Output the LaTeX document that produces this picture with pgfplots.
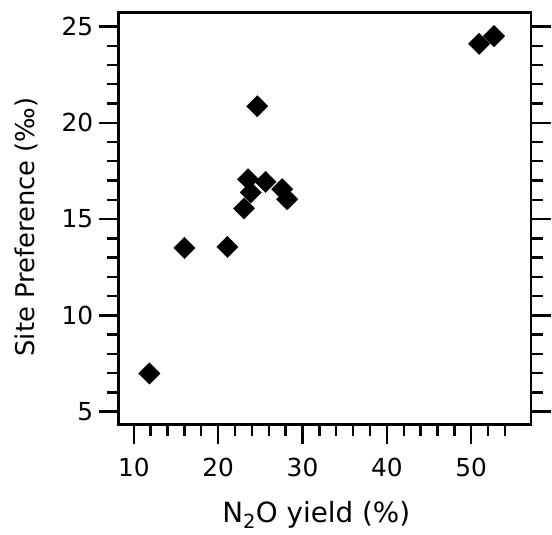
\documentclass[border=0pt]{standalone}
\usepackage{fontspec}
\setmainfont{DejaVu Sans}
\usepackage{pgfplots}
\pgfplotsset{compat=1.18}
\begin{document}
\begin{tikzpicture}
\begin{axis}[
  scale only axis, width=414bp, height=413.5bp,
  xmin=8.19, xmax=57.07, ymin=4.34, ymax=25.73,
  xtick={10,20,...,50}, ytick={5,10,...,25},
  minor xtick={12,14,16,18,22,24,26,28,32,34,36,38,42,44,46,48,52,54},
  minor ytick={6,7,8,9,11,12,13,14,16,17,18,19,21,22,23,24},
  xtick pos=bottom, ytick pos=both, yticklabel pos=left,
  tick align=outside,
  major tick length=20bp, minor tick length=12bp,
  every tick/.style={black, line width=2.4bp},
  axis line style={line width=2.7bp},
  /pgf/number format/assume math mode=true,
  tick label style={font=\fontsize{25}{25}\selectfont},
  xticklabel style={yshift=-10bp},
  yticklabel style={xshift=-2bp},
  xlabel={N\textsubscript{2}O yield (\%)},
  ylabel={Site Preference (‰)},
  xlabel style={font=\fontsize{28}{28}\selectfont, at={(rel axis cs:0.2512,-0.2394)}, anchor=base west, inner sep=0pt},
  ylabel style={font=\fontsize{26}{26}\selectfont, at={(rel axis cs:-0.2029,0.1644)}, anchor=base west, inner sep=0pt},
  clip=false,
]
\addplot[only marks, mark=square*, mark size=7.6bp, mark options={rotate=45, fill=black, draw=black, line width=0.3bp}] coordinates {
  (11.85,6.98) (16.0,13.5) (21.1,13.55) (23.07,15.55) (23.54,17.07)
  (23.86,16.38) (25.63,16.93) (27.59,16.55) (28.18,16.03) (24.64,20.86)
  (50.93,24.1) (52.7,24.5)
};
\coordinate (BL) at (rel axis cs:0,0);
\coordinate (TR) at (rel axis cs:1,1);
\end{axis}
\path ([xshift=-119bp,yshift=-111bp]BL) rectangle ([xshift=19bp,yshift=12.5bp]TR);
\end{tikzpicture}
\end{document}
